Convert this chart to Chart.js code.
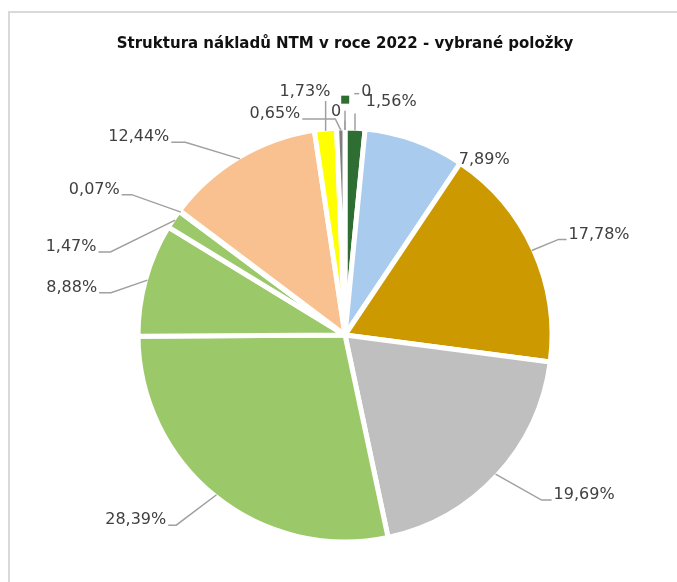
<!DOCTYPE html>
<html>
<head>
<meta charset="utf-8">
<script src="https://cdn.jsdelivr.net/npm/chart.js@4"></script>
<style>
  body { margin: 0; background: #fff; }
</style>
</head>
<body>
<canvas id="myChart" width="677" height="582"></canvas>
<script>
const CHART = document.getElementById('myChart');

// data, clockwise from 12 o'clock
const categories = ['Položka 1', 'Položka 2', 'Položka 3', 'Položka 4', 'Položka 5', 'Položka 6', 'Položka 7',
    'Položka 8', 'Položka 9', 'Položka 10', 'Položka 11', 'Položka 12', 'Položka 13'];
const shares = [0, 1.56, 7.89, 17.78, 19.69, 28.39, 8.88, 1.47, 0.07, 12.44, 1.73, 0.65, 0];

const sliceColors = ['#2f6e32', '#2f6e32', '#a9cbee', '#cc9900', '#bfbfbf', '#9bc96a', '#9bc96a',
    '#9bc96a', '#9bc96a', '#f9c18f', '#ffff00', '#808080', '#808080'];

// label placement: [angle from top (deg), distance as share of radius, leader type, leader length, legend key]
const labelLayout = [
    [5, 1.18, 'v', 19, true],
    [11.2, 1.15, 'v', 12],
    [38.5, 1.08, 'none', 0],
    [68.4, 1.32, 'h', 8],
    [123.8, 1.39, 'h', 10],
    [228.5, 1.35, 'h', 8],
    [279.8, 1.34, 'h', 12],
    [287.8, 1.39, 'h', 12],
    [300.1, 1.40, 'h', 10],
    [313.8, 1.38, 'h', 14],
    [350.65, 1.19, 'v', 9],
    [342.4, 1.12, 'h', 33],
    [357.7, 1.08, 'v', 9]
];

const formatShare = (v) => v === 0 ? '0' : v.toFixed(2).replace('.', ',') + '%';

const framePlugin = {
    id: 'frame',
    beforeDraw(chart) {
        const ctx = chart.ctx;
        ctx.save();
        ctx.fillStyle = '#fff';
        ctx.fillRect(0, 0, chart.width, chart.height);
        ctx.strokeStyle = '#d9d9d9';
        ctx.lineWidth = 2;
        ctx.strokeRect(9, 12, chart.width + 20, chart.height + 20);
        ctx.restore();
    }
};

const labelPlugin = {
    id: 'pieLabels',
    afterDatasetsDraw(chart) {
        const ctx = chart.ctx;
        const arcs = chart.getDatasetMeta(0).data;
        ctx.save();
        ctx.font = '16px "DejaVu Sans"';
        ctx.textAlign = 'center';
        ctx.textBaseline = 'middle';
        arcs.forEach((arc, i) => {
            const p = arc.getProps(['x', 'y', 'startAngle', 'endAngle', 'outerRadius'], true);
            const R = p.outerRadius;
            const mid = (p.startAngle + p.endAngle) / 2;
            const ax = p.x + Math.cos(mid) * (R - 2);
            const ay = p.y + Math.sin(mid) * (R - 2);
            const [deg, f, kind, seg, key] = labelLayout[i];
            const a = (deg - 90) * Math.PI / 180;
            const lx = p.x + Math.cos(a) * R * f;
            const ly = p.y + Math.sin(a) * R * f;
            const text = formatShare(shares[i]);
            const w = ctx.measureText(text).width;

            ctx.strokeStyle = '#a0a0a0';
            ctx.lineWidth = 1.5;
            ctx.beginPath();
            if (kind === 'h') {
                const right = ax > lx;
                const sx = right ? lx + w / 2 + 2 : lx - w / 2 - 2;
                const ex = right ? sx + seg : sx - seg;
                ctx.moveTo(sx, ly + 5);
                ctx.lineTo(ex, ly + 5);
                ctx.lineTo(ax, ay);
            } else if (kind === 'v') {
                ctx.moveTo(ax, ay);
                ctx.lineTo(ax, ly + seg);
            }
            ctx.stroke();

            if (key) {
                ctx.fillStyle = sliceColors[i];
                ctx.fillRect(lx - w / 2 - 20, ly + 4, 8, 8);
                ctx.beginPath();
                ctx.moveTo(lx - w / 2 - 7, ly + 2);
                ctx.lineTo(lx - w / 2 - 2, ly + 2);
                ctx.stroke();
            }
            ctx.fillStyle = '#404040';
            ctx.fillText(text, lx, ly);
        });
        ctx.restore();
    }
};

new Chart(CHART, {
    type: 'pie',
    data: {
        labels: categories,
        datasets: [
            {
                label: 'Podíl',
                data: shares,
                backgroundColor: sliceColors,
                borderColor: '#ffffff',
                borderWidth: 5,
                radius: 207
            }
        ]
    },
    options: {
        responsive: false,
        animation: false,
        layout: {
            padding: { left: 20, right: 7, top: 0, bottom: 12 }
        },
        plugins: {
            legend: { display: false },
            tooltip: { enabled: false },
            title: {
                display: true,
                text: 'Struktura nákladů NTM v roce 2022 - vybrané položky',
                color: '#111111',
                font: { family: '"DejaVu Sans"', size: 15, weight: 'bold', lineHeight: 1.2 },
                padding: { top: 35, bottom: 47 }
            }
        }
    },
    plugins: [framePlugin, labelPlugin]
});
</script>
</body>
</html>
